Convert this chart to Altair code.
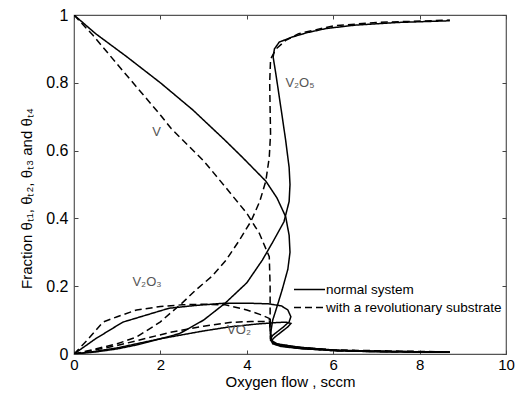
import altair as alt
import pandas as pd

# ---- curve data ----
v_norm_x = [0, 0.5, 1.21, 2, 2.75, 3.5, 3.9, 4.44, 4.7, 4.9, 4.98, 5.0, 4.95, 4.82, 4.7, 4.6, 4.55, 4.57, 4.7, 5.2, 6, 7, 8.7]
v_norm_y = [1, 0.945, 0.878, 0.80, 0.72, 0.63, 0.58, 0.51, 0.46, 0.405, 0.35, 0.30, 0.25, 0.19, 0.14, 0.10, 0.06, 0.04, 0.03, 0.02, 0.012, 0.008, 0.006]

v2o5_norm_x = [0, 0.5, 1, 1.5, 2, 2.44, 3, 3.5, 4.0, 4.36, 4.6, 4.86, 4.98, 5.0, 4.98, 4.9, 4.82, 4.75, 4.68, 4.61, 4.64, 4.75, 5.05, 5.4, 5.83, 6.5, 7.5, 8.7]
v2o5_norm_y = [0, 0.006, 0.015, 0.028, 0.045, 0.06, 0.1, 0.15, 0.21, 0.277, 0.33, 0.39, 0.45, 0.5, 0.55, 0.63, 0.70, 0.76, 0.82, 0.876, 0.90, 0.92, 0.935, 0.948, 0.96, 0.97, 0.978, 0.983]

v2o3_norm_x = [0, 0.5, 1.13, 1.6, 2.2, 2.8, 3.5, 4.0, 4.5, 4.8, 4.95, 5.02, 4.98, 4.85, 4.7, 4.6, 4.55, 4.6, 4.75, 5.2, 6, 7, 8.7]
v2o3_norm_y = [0, 0.045, 0.094, 0.112, 0.135, 0.143, 0.15, 0.15, 0.148, 0.142, 0.13, 0.11, 0.095, 0.08, 0.065, 0.055, 0.045, 0.033, 0.025, 0.017, 0.01, 0.007, 0.005]

vo2_norm_x = [0, 0.5, 1, 2, 3, 3.6, 4.2, 4.6, 4.9, 5.02, 4.95, 4.8, 4.65, 4.57, 4.6, 4.8, 5.3, 6.5, 8.7]
vo2_norm_y = [0, 0.008, 0.018, 0.045, 0.068, 0.08, 0.088, 0.092, 0.094, 0.09, 0.08, 0.065, 0.05, 0.04, 0.03, 0.022, 0.015, 0.008, 0.005]

v_rev_x = [0, 0.44, 1, 1.5, 2, 2.25, 3, 3.52, 4, 4.29, 4.52, 4.54, 4.54, 4.55, 4.6, 4.75, 5.2, 6, 7, 8.7]
v_rev_y = [1, 0.94, 0.855, 0.78, 0.705, 0.665, 0.57, 0.49, 0.415, 0.356, 0.287, 0.2, 0.12, 0.06, 0.035, 0.025, 0.018, 0.01, 0.007, 0.005]

v2o5_rev_x = [0, 0.5, 1, 1.45, 2, 2.5, 2.83, 3.2, 3.52, 3.8, 4.09, 4.3, 4.44, 4.52, 4.55, 4.54, 4.53, 4.55, 4.68, 4.9, 5.2, 6, 7, 8.7]
v2o5_rev_y = [0, 0.015, 0.03, 0.05, 0.095, 0.15, 0.19, 0.23, 0.277, 0.33, 0.39, 0.45, 0.51, 0.58, 0.65, 0.72, 0.8, 0.87, 0.9, 0.925, 0.945, 0.968, 0.978, 0.985]

v2o3_rev_x = [0, 0.3, 0.67, 1, 1.45, 2, 2.5, 3, 3.5, 4, 4.3, 4.52, 4.54, 4.55, 4.65, 5.2, 6, 8.7]
v2o3_rev_y = [0, 0.04, 0.094, 0.11, 0.13, 0.14, 0.145, 0.147, 0.145, 0.13, 0.117, 0.105, 0.07, 0.04, 0.03, 0.02, 0.012, 0.006]

vo2_rev_x = [0, 1, 2.2, 3, 3.6, 4.1, 4.53, 4.55, 4.55, 4.65, 5.2, 6, 8.7]
vo2_rev_y = [0, 0.025, 0.063, 0.082, 0.093, 0.096, 0.096, 0.06, 0.04, 0.03, 0.02, 0.01, 0.005]

systems = ["normal system", "with a revolutionary substrate"]

label_text = ["V", "V\u2082O\u2085", "V\u2082O\u2083", "VO\u2082"]
label_x = [1.91, 5.23, 1.69, 3.82]
label_y = [0.655, 0.80, 0.212, 0.071]

x_ticks = [0, 2, 4, 6, 8, 10]
y_ticks = [0, 0.2, 0.4, 0.6, 0.8, 1]

curves = [
    ("V", systems[0], v_norm_x, v_norm_y),
    ("V2O5", systems[0], v2o5_norm_x, v2o5_norm_y),
    ("V2O3", systems[0], v2o3_norm_x, v2o3_norm_y),
    ("VO2", systems[0], vo2_norm_x, vo2_norm_y),
    ("V", systems[1], v_rev_x, v_rev_y),
    ("V2O5", systems[1], v2o5_rev_x, v2o5_rev_y),
    ("V2O3", systems[1], v2o3_rev_x, v2o3_rev_y),
    ("VO2", systems[1], vo2_rev_x, vo2_rev_y),
]
rows = []
for name, sysname, xs, ys in curves:
    for i, (a, b) in enumerate(zip(xs, ys)):
        rows.append({"curve": name + " " + sysname, "system": sysname, "i": i, "flow": a, "frac": b})
df = pd.DataFrame(rows)
labels_df = pd.DataFrame({"t": label_text, "flow": label_x, "frac": label_y})

FONT = "Liberation Sans"
xscale = alt.Scale(domain=[0, 10], nice=False, zero=False)
yscale = alt.Scale(domain=[0, 1], nice=False, zero=False)

lines = alt.Chart(df).mark_line(color="black", strokeWidth=1.5, clip=True).encode(
    x=alt.X("flow:Q", scale=xscale,
            axis=alt.Axis(orient="bottom", values=x_ticks, offset=-4, tickSize=4, labelPadding=3,
                          labelFontSize=15, title="Oxygen flow , sccm", titlePadding=2,
                          labelFlush=False)),
    y=alt.Y("frac:Q", scale=yscale,
            axis=alt.Axis(orient="left", values=y_ticks, offset=-4, tickSize=4, labelPadding=6,
                          title="Fraction \u03b8\u209c\u2081, \u03b8\u209c\u2082, \u03b8\u209c\u2083 and \u03b8\u209c\u2084",
                          titlePadding=11, titleY=183, labelFlush=False, format="~g")),
    detail="curve:N",
    order="i:Q",
    strokeDash=alt.StrokeDash("system:N",
        scale=alt.Scale(domain=systems, range=[[1, 0], [7, 4]]),
        legend=alt.Legend(title=None, orient="none", legendX=219, legendY=266,
                          symbolType="stroke", symbolSize=961, symbolStrokeWidth=1.4,
                          symbolStrokeColor="black", clipHeight=17, rowPadding=1,
                          labelFont=FONT, labelFontSize=13.5, labelOffset=0, padding=0,
                          labelLimit=400, labelColor="black")),
)

texts = alt.Chart(labels_df).mark_text(font=FONT, fontSize=13, color="#555555").encode(
    x=alt.X("flow:Q", scale=xscale,
            axis=alt.Axis(orient="top", values=x_ticks, offset=-4, tickSize=4, labels=False, title=None)),
    y=alt.Y("frac:Q", scale=yscale,
            axis=alt.Axis(orient="right", values=y_ticks, offset=-4, tickSize=4, labels=False, title=None)),
    text="t:N",
)

chart = alt.layer(lines, texts).resolve_axis(x="independent", y="independent").properties(
    width=432, height=339,
    autosize=alt.AutoSizeParams(type="none"),
    padding={"left": 66, "top": 7, "right": 9, "bottom": 37},
).configure_view(stroke="#555555", strokeWidth=1.2).configure_axis(
    domain=False, grid=False, tickColor="#444444", tickWidth=1,
    labelFont=FONT, labelFontSize=16, labelColor="black",
    titleFont=FONT, titleFontSize=15, titleFontWeight="normal", titleColor="black",
)

chart.save("out.html", embed_options={"renderer": "svg", "actions": False})
